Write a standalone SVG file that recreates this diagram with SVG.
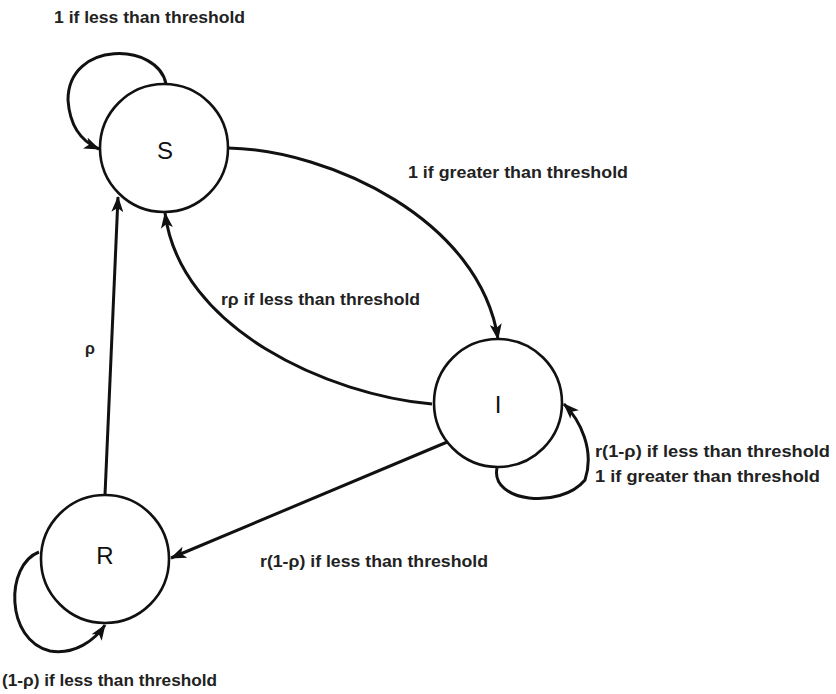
<svg xmlns="http://www.w3.org/2000/svg" width="836" height="694" viewBox="0 0 836 694">
<style>
.node circle{fill:#fff;stroke:#111;stroke-width:2.6}
.node text{font-family:"Liberation Sans",Arial,sans-serif;font-size:24px;fill:#111;text-anchor:middle}
.edge{fill:none;stroke:#111;stroke-width:3;marker-end:url(#arr)}
.lbl{font-family:"Liberation Sans",Arial,sans-serif;font-weight:bold;font-size:16px;fill:#222}
</style>
<defs>
<marker id="arr" viewBox="0 0 16 12" refX="15" refY="6" markerWidth="16" markerHeight="12" markerUnits="userSpaceOnUse" orient="auto">
<path d="M0,0 L16,6 L0,12 L4,6 z" fill="#111"/>
</marker>
</defs>
<rect width="836" height="694" fill="#fff"/>
<g id="connectors">
<path class="edge" d="M166 84 C158 42 68 40 68 100 C70 130 85 143 99 149"/>
<path class="edge" d="M228 148 C330 150 480 220 498 339"/>
<path class="edge" d="M432 404 C330 395 180 330 165 213"/>
<path class="edge" d="M105 495 L118 197"/>
<path class="edge" d="M452 440 L171 558"/>
<path class="edge" d="M497 468 C490 502 560 510 585 480 C595 450 580 420 564 404"/>
<path class="edge" d="M39 552 C5 565 5 640 50 651 C75 655 95 640 105 625"/>
</g>
<g id="node-S" class="node"><circle cx="164" cy="148" r="64"/><text x="165" y="159">S</text></g>
<g id="node-I" class="node"><circle cx="498" cy="403" r="64"/><text x="498" y="413">I</text></g>
<g id="node-R" class="node"><circle cx="105" cy="559" r="64"/><text x="105" y="564">R</text></g>
<g id="labels">
<text class="lbl" x="54" y="23" textLength="191" lengthAdjust="spacingAndGlyphs">1 if less than threshold</text>
<text class="lbl" x="408" y="178" textLength="220" lengthAdjust="spacingAndGlyphs">1 if greater than threshold</text>
<text class="lbl" x="221" y="305" textLength="199" lengthAdjust="spacingAndGlyphs">rρ if less than threshold</text>
<text class="lbl" x="85" y="354">ρ</text>
<text class="lbl" x="595" y="457" textLength="235" lengthAdjust="spacingAndGlyphs">r(1-ρ) if less than threshold</text>
<text class="lbl" x="595" y="482" textLength="225" lengthAdjust="spacingAndGlyphs">1 if greater than threshold</text>
<text class="lbl" x="260" y="567" textLength="228" lengthAdjust="spacingAndGlyphs">r(1-ρ) if less than threshold</text>
<text class="lbl" x="2" y="686" textLength="215" lengthAdjust="spacingAndGlyphs">(1-ρ) if less than threshold</text>
</g>
</svg>
